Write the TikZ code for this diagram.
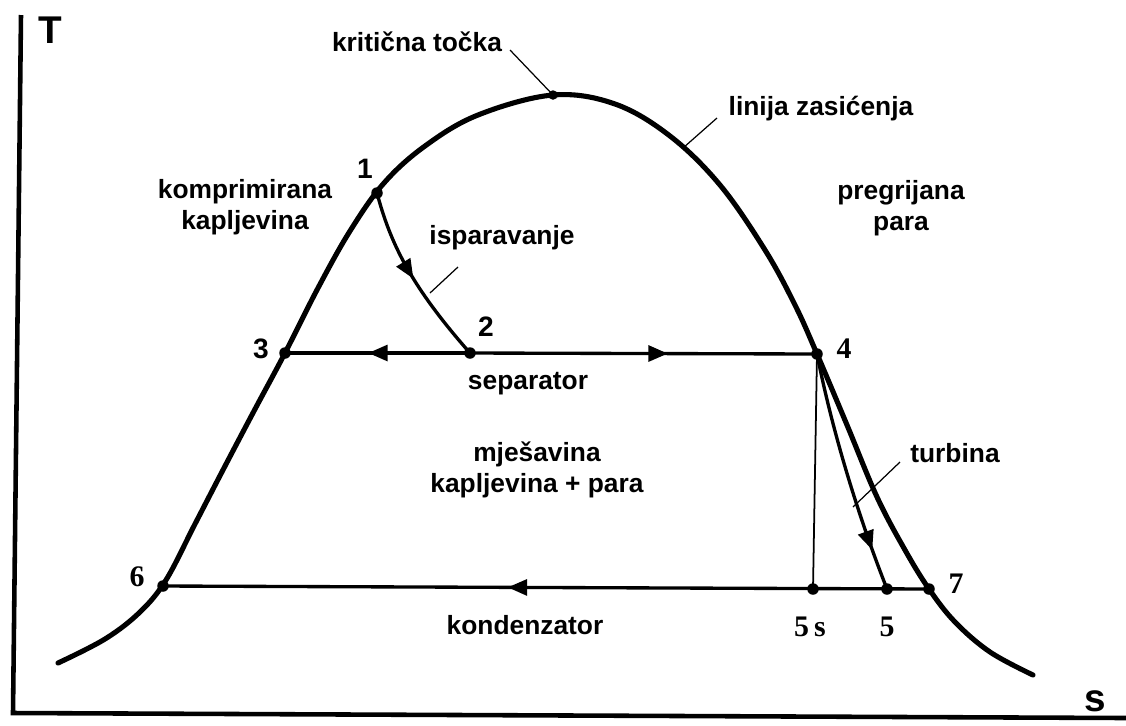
\documentclass[tikz,border=0pt]{standalone}
\usepackage{fontspec}
\setmainfont{Liberation Sans}
\newfontfamily\serifnum{Liberation Serif}
\usetikzlibrary{arrows.meta,decorations.markings}
\begin{document}
\begin{tikzpicture}[x=0.02cm,y=-0.02cm,
  dome/.style={line width=2.9pt, line join=round, line cap=round},
  axis/.style={line width=2.6pt, line join=miter},
  proc/.style={line width=1.9pt},
  thinline/.style={line width=1pt},
  leader/.style={line width=0.7pt},
  dot/.style={circle, fill, inner sep=0pt, minimum size=0.23cm},
  lbl/.style={font=\fontsize{15}{17.5}\selectfont\bfseries, align=center, inner sep=0pt},
  num/.style={font=\fontsize{16}{18}\selectfont\bfseries, inner sep=0pt},
  snum/.style={font=\serifnum\fontsize{17}{19}\selectfont\bfseries, inner sep=0pt},
  axlbl/.style={font=\fontsize{22}{24}\selectfont\bfseries, inner sep=0pt},
  midarrow/.style={postaction={decorate}, decoration={markings, mark=at position #1 with {\arrow{Triangle[length=11pt,width=9pt]}}}}
]
\useasboundingbox (0,0) rectangle (1126,725);
% axes
\draw[axis] (21,15) -- (13,713) -- (1126,718);
\node[axlbl] (T) at (50,30) {T};
\node[axlbl] (S) at (1095,701) {s};
% saturation dome
\draw[dome] plot[smooth, tension=0.6] coordinates {
 (58,663) (105,639) (140,612) (166,580) (195,524) (224,468) (254,411) (285,353)
 (318,288) (350,231) (384,183) (425,146) (478,115) (553,95) (615,104) (670,136)
 (720,185) (765,250) (795,305) (817,354) (847,425) (877,497) (905,550) (929,589)
 (955,622) (990,652) (1033,675)};
% state points
\node[dot] (p1) at (377,193) {};
\node[dot] (p2) at (470,353) {};
\node[dot] (p3) at (285,353) {};
\node[dot] (p4) at (817,354) {};
\node[dot] (p5s) at (813,589) {};
\node[dot] (p5) at (887,589) {};
\node[dot] (p6) at (163,586) {};
\node[dot] (p7) at (929,589) {};
\node[dot, minimum size=0.19cm] (pk) at (553,95) {};
% processes
\draw[proc, midarrow=0.5] (p1.center) .. controls (390,242) and (410,285) .. (p2.center);
\draw[proc, midarrow=0.55] (p2.center) -- (p3.center);
\draw[proc, midarrow=0.57] (p2.center) -- (p4.center);
\draw[thinline] (p4.center) -- (p5s.center);
\draw[proc, midarrow=0.83] (p4.center) .. controls (828,410) and (850,495) .. (p5.center);
\draw[proc, midarrow=0.55] (p7.center) -- (p6.center);
% point labels
\node[num] (n1) at (365,169) {1};
\node[num] (n2) at (486,327) {2};
\node[num] (n3) at (261,349) {3};
\node[snum] (n4) at (844,349) {4};
\node[snum] (n5s) at (810,627) {5\,s};
\node[snum] (n5) at (887,627) {5};
\node[snum] (n6) at (137,577) {6};
\node[snum] (n7) at (956,584) {7};
% region and process labels
\node[lbl] (lkt) at (417,42) {kritična točka};
\node[lbl] (llz) at (821,109) {linija zasićenja};
\node[lbl] (lpp) at (901,208) {pregrijana\\para};
\node[lbl] (lkk) at (245,207) {komprimirana\\kapljevina};
\node[lbl] (lisp) at (502,238) {isparavanje};
\node[lbl] (lsep) at (528,384) {separator};
\node[lbl] (lmj) at (537,470) {mješavina\\kapljevina + para};
\node[lbl] (ltur) at (955,453) {turbina};
\node[lbl] (lkon) at (525,625) {kondenzator};
% leaders
\coordinate (ck) at (510,50);
\draw[leader] (ck) -- (pk.center);
\coordinate (clz1) at (717,118);
\coordinate (clz2) at (683,148);
\draw[leader] (clz1) -- (clz2);
\coordinate (cis1) at (458,267);
\coordinate (cis2) at (430,293);
\draw[leader] (cis1) -- (cis2);
\coordinate (ctu1) at (900,462);
\coordinate (ctu2) at (853,507);
\draw[leader] (ctu1) -- (ctu2);
\end{tikzpicture}
\end{document}
